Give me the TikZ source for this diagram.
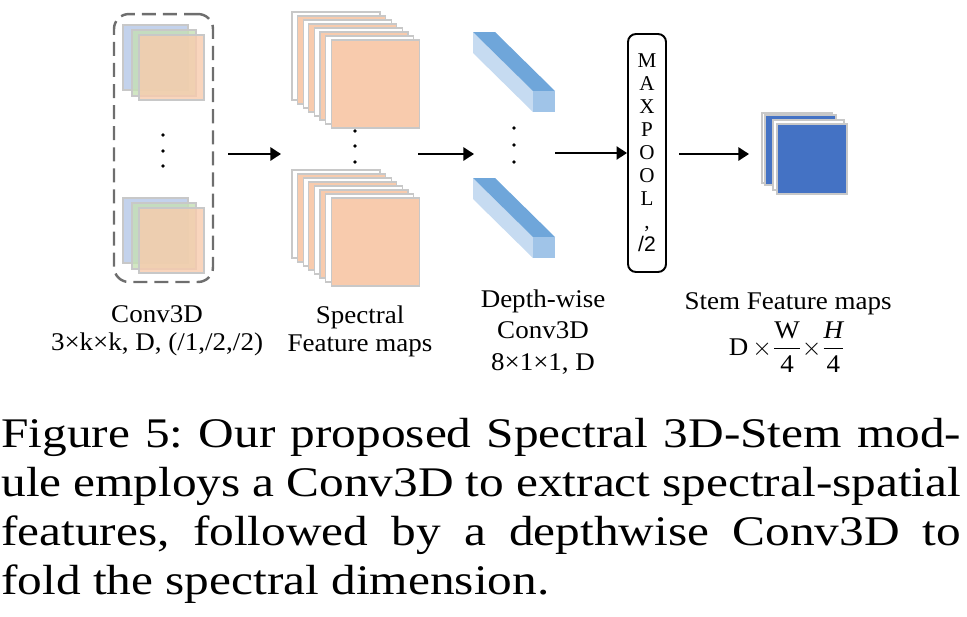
\documentclass[tikz,border=0pt]{standalone}
\usepackage{amsmath}
\usepackage{fontspec}
\setmainfont{Liberation Serif}
\newfontfamily\poolsans{Liberation Sans}
\newfontfamily\lblfont[FakeStretch=1.06]{Liberation Serif}
\newfontfamily\capfont[FakeStretch=1.17]{Liberation Serif}
\usetikzlibrary{arrows.meta, positioning}
\definecolor{convblue}{RGB}{180,199,231}
\definecolor{convgreen}{RGB}{197,224,180}
\definecolor{convorange}{RGB}{248,203,173}
\definecolor{specorange}{RGB}{248,203,173}
\definecolor{sheetgray}{RGB}{200,200,200}
\definecolor{boxgray}{RGB}{110,110,110}
\definecolor{bartop}{RGB}{111,166,218}
\definecolor{barside}{RGB}{198,219,241}
\definecolor{barfront}{RGB}{160,196,232}
\definecolor{stemblue}{RGB}{68,114,196}
\tikzset{
  convbox/.style={draw=boxgray, dash pattern=on 8pt off 4pt, line width=1.4pt,
    rounded corners=8.5pt, minimum width=1.98cm, minimum height=5.36cm},
  convsq/.style={draw=sheetgray, line width=0.6pt, fill opacity=0.8},
  sheet/.style={draw=sheetgray, line width=0.6pt},
  poolbox/.style={draw, line width=1.1pt, rounded corners=4.5pt,
    minimum width=0.76cm, minimum height=4.76cm, align=center,
    font=\fontsize{12}{13.1}\selectfont},
  arrow/.style={-{Triangle[length=6pt,width=7.5pt]}, line width=1.1pt},
  lbl/.style={align=center, inner sep=0pt, font=\lblfont\fontsize{14.5}{16}\selectfont},
  caption/.style={anchor=north west, inner sep=0pt, text width=19.2cm,
    align=justify, font=\capfont\fontsize{24}{27.9}\selectfont}
}
\begin{document}
\begin{tikzpicture}[x=0.02cm, y=-0.02cm]
  \useasboundingbox (0,0) rectangle (967,616);

  % Conv3D kernels
  \node[convbox] (conv) at (163.5,148) {};
  \foreach \dy in {0,173}{
    \draw[convsq, fill=convblue] (123,25+\dy) rectangle (188,90+\dy);
    \draw[convsq, fill=convgreen] (132,30+\dy) rectangle (196,96+\dy);
    \draw[convsq, fill=convorange] (139,35+\dy) rectangle (204,100+\dy);
  }
  \foreach \y in {135,151,166} \fill (163,\y) circle (1.1pt);

  % Spectral feature maps
  \foreach \i/\c in {0/white,1/specorange,2/white,3/specorange,4/white,5/specorange,6/white,7/specorange}{
    \draw[sheet, fill=\c] ({292+5.6*\i},{12+4*\i}) rectangle +(88,88);
    \draw[sheet, fill=\c] ({292+5.6*\i},{170+4*\i}) rectangle +(88,88);
  }
  \foreach \y in {131,146,162} \fill (355,\y) circle (1.1pt);

  % Depth-wise Conv3D bars
  \foreach \dy in {0,146}{
    \fill[barside] (473,32+\dy) -- (533,91+\dy) -- (533,112+\dy) -- (473,53+\dy) -- cycle;
    \fill[bartop] (473,32+\dy) -- (495,32+\dy) -- (555,91+\dy) -- (533,91+\dy) -- cycle;
    \fill[barfront] (533,91+\dy) rectangle (555,112+\dy);
  }
  \foreach \y in {128,145,162} \fill (514,\y) circle (1.1pt);

  % Maxpool
  \node[poolbox] (pool) at (647,153) {M\\A\\X\\P\\O\\O\\L\\,\\{\poolsans /2}};

  % Stem feature maps
  \draw[sheet, fill=white] (762,113) rectangle +(70,70);
  \draw[sheet, fill=stemblue] (765,115) rectangle +(71,70);
  \draw[sheet, fill=white] (773,120) rectangle +(71,70);
  \draw[sheet, fill=stemblue] (777,124) rectangle +(70,70);

  % Arrows
  \coordinate (a1s) at (228,154);
  \coordinate (a1e) at (281,154);
  \coordinate (a2s) at (418,154);
  \coordinate (a2e) at (474,154);
  \coordinate (a3s) at (555,153);
  \coordinate (a4s) at (679,154);
  \coordinate (a4e) at (749,154);
  \draw[arrow] (a1s) -- (a1e);
  \draw[arrow] (a2s) -- (a2e);
  \draw[arrow] (a3s) -- (pool.west);
  \draw[arrow] (a4s) -- (a4e);

  % Labels
  \node[lbl] (convlbl) at (157,331) {Conv3D\\3×k×k, D, (/1,/2,/2)};
  \node[lbl] (speclbl) at (360,331) {Spectral\\Feature maps};
  \node[lbl, font=\lblfont\fontsize{14.5}{17.9}\selectfont] (dwlbl) at (543,332) {Depth-wise\\Conv3D\\8×1×1, D};
  \node[lbl] (stemlbl) at (788,304) {Stem Feature maps};
  \node[lbl] (stemdim) at (787,347) {$\text{D}\,{\times}\dfrac{\text{W}}{\text{4}}{\times}\dfrac{\text{\itshape H}}{\text{4}}$};

  % Caption
  \node[caption] (cap) at (1,418) {\frenchspacing\hyphenpenalty=10000 Figure 5: Our proposed Spectral 3D-Stem mod-\linebreak
    ule employs a Conv3D to extract spectral-spatial\linebreak
    features, followed by a depthwise Conv3D to\linebreak
    fold the spectral dimension.};
\end{tikzpicture}
\end{document}
